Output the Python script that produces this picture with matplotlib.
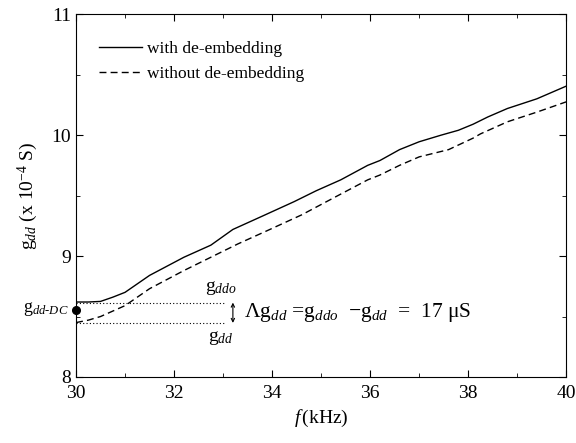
import matplotlib
matplotlib.use("Agg")
import matplotlib.pyplot as plt
from matplotlib.ticker import MultipleLocator

plt.rcParams['font.family'] = ['Liberation Serif', 'DejaVu Serif']
plt.rcParams['mathtext.fontset'] = 'custom'
plt.rcParams['mathtext.rm'] = 'Liberation Serif'
plt.rcParams['mathtext.it'] = 'Liberation Serif:italic'

# frequency (kHz) and g_dd (x 1e-4 S)
f_with = [30.0, 30.25, 30.5, 30.75, 31.0, 31.25, 31.5, 32.2, 32.75, 33.2, 33.8,
          34.45, 34.9, 35.4, 35.95, 36.2, 36.6, 37.0, 37.45, 37.8, 38.1, 38.4,
          38.8, 39.4, 40.0]
g_with = [8.62, 8.62, 8.625, 8.66, 8.70, 8.77, 8.84, 8.99, 9.09, 9.22, 9.33,
          9.45, 9.54, 9.63, 9.75, 9.79, 9.88, 9.945, 10.0, 10.04, 10.09, 10.15,
          10.22, 10.30, 10.405]

f_without = [30.0, 30.25, 30.5, 30.75, 31.0, 31.5, 32.2, 32.9, 33.3, 33.9, 34.6,
             35.25, 35.95, 36.2, 36.6, 37.0, 37.6, 38.1, 38.25, 38.8, 39.4, 40.0]
g_without = [8.45, 8.47, 8.50, 8.545, 8.59, 8.73, 8.88, 9.02, 9.10, 9.21, 9.34,
             9.48, 9.63, 9.67, 9.75, 9.82, 9.88, 9.975, 10.01, 10.11, 10.19, 10.275]

g_ddo = 8.615
g_dd = 8.447
g_dd_dc = 8.55

fig = plt.figure(figsize=(5.76, 4.43), dpi=100)
ax = fig.add_axes([0.132, 0.149, 0.851, 0.819])

ax.plot(f_with, g_with, color='black', lw=1.0, label='with de-embedding')
ax.plot(f_without, g_without, color='black', lw=1.0, ls=(0, (5, 3)),
        label='without de-embedding')

# dotted reference levels
ax.plot([30, 33.05], [g_ddo, g_ddo], color='black', lw=0.8, ls=(0, (1, 2)))
ax.plot([30, 33.05], [g_dd, g_dd], color='black', lw=0.8, ls=(0, (1, 2)))
ax.annotate('', xy=(33.2, g_dd), xytext=(33.2, g_ddo),
            arrowprops=dict(arrowstyle='<->', color='black', lw=0.8,
                            mutation_scale=6, shrinkA=0, shrinkB=0))

ax.plot([30], [g_dd_dc], 'o', color='black', ms=5.5, clip_on=False, zorder=5)

ax.text(32.95, 8.66, r'$\mathrm{g}_{ddo}$', fontsize=14, ha='center', va='bottom')
ax.text(32.95, 8.40, r'$\mathrm{g}_{dd}$', fontsize=14, ha='center', va='top')
ax.text(33.42, 8.53,
        r'$\Lambda\mathrm{g}_{dd}$ =$\mathrm{g}_{ddo}$  $-\mathrm{g}_{dd}$  =  17 $\mathrm{\mu}$S',
        fontsize=15.5, ha='left', va='center')
ax.text(29.85, 8.56, r'$\mathrm{g}_{dd\text{-}DC}$', fontsize=13, ha='right', va='center')

ax.set_xlim(30, 40)
ax.set_ylim(8, 11)
ax.xaxis.set_major_locator(MultipleLocator(2))
ax.xaxis.set_minor_locator(MultipleLocator(1))
ax.yaxis.set_major_locator(MultipleLocator(1))
ax.yaxis.set_minor_locator(MultipleLocator(0.5))
ax.tick_params(which='both', direction='in', top=True, right=True, labelsize=14)
ax.tick_params(which='major', length=5)
ax.tick_params(which='minor', length=3)
ax.tick_params(axis='x', pad=6)

ax.set_xlabel(r'$f\,$(kHz)', fontsize=14, labelpad=4)
ax.set_ylabel(r'$\mathrm{g}_{dd}$ (x 10$^{\mathrm{-4}}$ S)', fontsize=14, labelpad=8)

ax.legend(loc='upper left', bbox_to_anchor=(0.025, 0.955), frameon=False,
          fontsize=12.5, handlelength=2.5, handletextpad=0.3, labelspacing=0.5,
          borderaxespad=0.2)

fig.savefig('out.png', dpi=100)
